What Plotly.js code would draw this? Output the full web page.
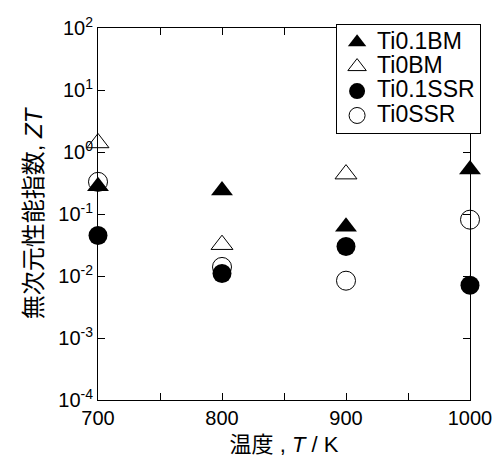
<!DOCTYPE html>
<html>
<head>
<meta charset="utf-8">
<script src="https://cdn.plot.ly/plotly-3.0.1.min.js"></script>
<style>html,body{margin:0;padding:0;background:#fff;}#chart{width:495px;height:457px;}</style>
</head>
<body>
<div id="chart"></div>
<script>
const seriesNames = ["Ti0.1BM", "Ti0BM", "Ti0.1SSR", "Ti0SSR"];
const temperature = [700, 800, 900, 1000];
const ti01BM = [0.28, 0.24, 0.062, 0.52];
const ti0BM_T = [700, 800, 900];
const ti0BM = [1.4, 0.032, 0.44];
const ti01SSR = [0.045, 0.011, 0.030, 0.0071];
const ti0SSR = [0.33, 0.014, 0.0084, 0.081];
const yTickVals = [1e-4, 1e-3, 1e-2, 1e-1, 1, 10, 100];
const yTickText = ["10<sup>-4</sup>", "10<sup>-3</sup>", "10<sup>-2</sup>", "10<sup>-1</sup>",
                   "10<sup>0</sup>", "10<sup>1</sup>", "10<sup>2</sup>"];
const xTickVals = [700, 800, 900, 1000];
const xTickText = ["700", "800", "900", "1000"];

const FONT = '"Liberation Sans", Arial, "Noto Sans CJK JP", sans-serif';
const msize = 19;
const lg = n => '<span style="font-size:23px">' + n + '</span>';

const traces = [
  {name: lg(seriesNames[0]), x: temperature, y: ti01BM, mode: 'markers', cliponaxis: false,
   marker: {symbol: 'triangle-up', size: msize, color: 'black'}},
  {name: lg(seriesNames[1]), x: ti0BM_T, y: ti0BM, mode: 'markers', cliponaxis: false,
   marker: {symbol: 'triangle-up-open', size: msize, color: 'black', line: {width: 1}}},
  {name: lg(seriesNames[2]), x: temperature, y: ti01SSR, mode: 'markers', cliponaxis: false,
   marker: {symbol: 'circle', size: msize, color: 'black'}},
  {name: lg(seriesNames[3]), x: temperature, y: ti0SSR, mode: 'markers', cliponaxis: false,
   marker: {symbol: 'circle-open', size: msize, color: 'black', line: {width: 1}}}
];

const layout = {
  width: 495, height: 457,
  margin: {l: 98, r: 25, t: 28, b: 57},
  paper_bgcolor: 'white', plot_bgcolor: 'white',
  font: {family: FONT, size: 20, color: 'black'},
  showlegend: true,
  legend: {x: 0.64, y: 1.011, xanchor: 'left', yanchor: 'top',
           bordercolor: 'black', borderwidth: 1, bgcolor: 'white',
           font: {size: 16.5, family: FONT}},
  xaxis: {
    range: [700, 1000], tickvals: xTickVals, ticktext: xTickText,
    ticks: 'inside', ticklen: 7, tickcolor: 'black',
    minor: {dtick: 50, tick0: 700, ticks: 'inside', ticklen: 7, tickcolor: 'black'},
    showline: true, linecolor: 'black', linewidth: 1, mirror: 'ticks',
    showgrid: false, zeroline: false,
    tickfont: {size: 20},
    title: {text: '温度 , <i>T</i> / K', font: {size: 22}, standoff: 8}
  },
  yaxis: {
    type: 'log', range: [-4, 2], tickvals: yTickVals, ticktext: yTickText,
    ticks: 'inside', ticklen: 7, tickcolor: 'black',
    showline: true, linecolor: 'black', linewidth: 1, mirror: 'ticks',
    showgrid: false, zeroline: false,
    tickfont: {size: 20},
    title: {text: '無次元性能指数, <i>ZT</i>', font: {size: 24}, standoff: 8}
  }
};

Plotly.newPlot('chart', traces, layout, {staticPlot: true});
</script>
</body>
</html>
